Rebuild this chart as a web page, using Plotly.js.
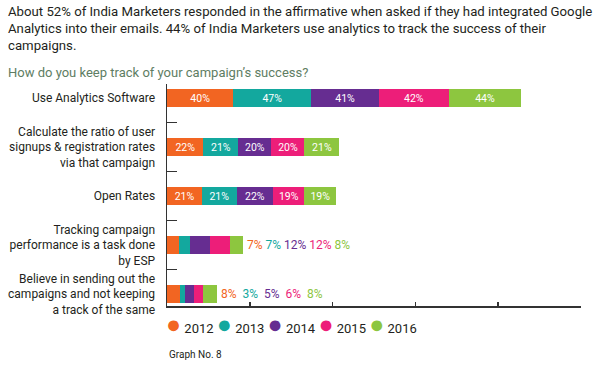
<!DOCTYPE html>
<html>
<head>
<meta charset="utf-8">
<script src="https://cdn.plot.ly/plotly-3.0.1.min.js"></script>
<style>html,body{margin:0;padding:0;background:#fff;}#chart{width:608px;height:367px;}</style>
</head>
<body>
<div id="chart"></div>
<script>
var categories = [
  "Use Analytics Software",
  "Calculate the ratio of user<br>signups & registration rates<br>via that campaign",
  "Open Rates",
  "Tracking campaign<br>performance is a task done<br>by ESP",
  "Believe in sending out the<br>campaigns and not keeping<br>a track of the same"
];
var years = ["2012", "2013", "2014", "2015", "2016"];
var v2012 = [40, 22, 21, 7, 8];
var v2013 = [47, 21, 21, 7, 3];
var v2014 = [41, 20, 22, 12, 5];
var v2015 = [42, 20, 19, 12, 6];
var v2016 = [44, 21, 19, 8, 8];
var colors = ["#F26522", "#13A89E", "#662D91", "#ED1E79", "#8DC63F"];
var FONT = "Roboto, 'Liberation Sans', sans-serif";
var series = [v2012, v2013, v2014, v2015, v2016];

var W = 608, H = 367, ML = 167, MR = 27, MT = 84, MB = 61;
var PW = W - ML - MR, PH = H - MT - MB;
function px2paperX(px) { return (px - ML) / PW; }
function px2paperY(py) { return (H - MB - py) / PH; }

var traces = [];
series.forEach(function (vals, i) {
  traces.push({
    type: "bar",
    orientation: "h",
    y: categories,
    x: vals,
    name: years[i],
    showlegend: false,
    marker: {color: colors[i], line: {width: 0}},
    text: vals.map(function (v) { return v >= 15 ? v + "%" : ""; }),
    textposition: "inside",
    insidetextanchor: "middle",
    textfont: {color: "#ffffff", size: 13, family: FONT},
    hoverinfo: "x+name"
  });
});

var annotations = [];
categories.forEach(function (cat, r) {
  var row = series.map(function (s) { return s[r]; });
  if (Math.min.apply(null, row) >= 15) return;
  var total = row.reduce(function (a, b) { return a + b; }, 0);
  var sep = r === 3 ? " " : "\u00a0\u00a0";
  var txt = row.map(function (v, i) {
    return '<span style="color:' + colors[i] + '">' + v + '%</span>';
  }).join(sep);
  annotations.push({
    x: total, y: cat, xref: "x", yref: "y", xanchor: "left", yanchor: "middle",
    xshift: 2, showarrow: false, text: txt, font: {size: 12, family: FONT}
  });
});
annotations.push({
  xref: "paper", yref: "paper", x: px2paperX(6), y: px2paperY(2), xanchor: "left", yanchor: "top",
  showarrow: false, align: "left",
  text: "About 52% of India Marketers responded in the affirmative when asked if they had integrated Google<br>Analytics into their emails. 44% of India Marketers use analytics to track the success of their<br>campaigns.",
  font: {size: 13.2, color: "#231f20", family: FONT}
});
annotations.push({
  xref: "paper", yref: "paper", x: px2paperX(6), y: px2paperY(72), xanchor: "left", yanchor: "middle",
  showarrow: false, align: "left",
  text: "How do you keep track of your campaign’s success?",
  font: {size: 13, color: "#5e7d63", family: FONT}
});
annotations.push({
  xref: "paper", yref: "paper", x: 0, y: px2paperY(354), xanchor: "left", yanchor: "middle",
  showarrow: false, text: "Graph No. 8",
  font: {size: 10, color: "#231f20", family: FONT}
});
var legendText = years.map(function (yr, i) {
  return '<span style="color:' + colors[i] + ';font-size:25px">\u25CF</span>' + '\u00a0' + yr;
}).join("\u00a0");
annotations.push({
  xref: "paper", yref: "paper", x: px2paperX(164), y: px2paperY(324), xanchor: "left", yanchor: "middle",
  showarrow: false, text: legendText, align: "left",
  font: {size: 13, color: "#231f20", family: FONT}
});

var layout = {
  width: W, height: H,
  margin: {l: ML, r: MR, t: MT, b: MB},
  paper_bgcolor: "#ffffff", plot_bgcolor: "#ffffff",
  font: {family: FONT, color: "#231f20", size: 12},
  barmode: "stack",
  bargap: 0.63,
  showlegend: false,
  xaxis: {
    range: [0, 250], dtick: 50, tick0: 0,
    showgrid: false, zeroline: false, showline: true, linecolor: "#333333", linewidth: 1.5,
    ticks: "inside", ticklen: 4, tickcolor: "#333333", tickwidth: 1.5,
    showticklabels: false, fixedrange: true
  },
  yaxis: {
    type: "category", categoryorder: "array", categoryarray: categories,
    range: [4.24, -0.29],
    showgrid: false, zeroline: false, showline: true, linecolor: "#333333", linewidth: 1.5,
    ticks: "inside", tickson: "boundaries", ticklen: 10, tickcolor: "#333333", tickwidth: 1.5,
    ticklabelstandoff: 8,
    tickfont: {size: 12, color: "#231f20", family: FONT}, fixedrange: true
  },
  annotations: annotations
};
Plotly.newPlot("chart", traces, layout, {displayModeBar: false, staticPlot: true});
</script>
</body>
</html>
